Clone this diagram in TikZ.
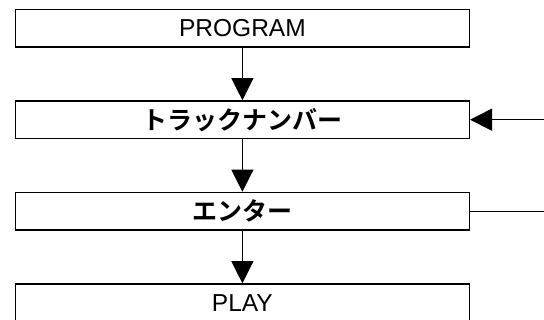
\documentclass[tikz,border=0pt]{standalone}
\usepackage{fontspec}
\setmainfont{Liberation Sans}
\newfontfamily\jpfont{Noto Sans CJK JP}[BoldFont={Noto Sans CJK JP Bold}]
\usetikzlibrary{arrows.meta}
\tikzset{
  stepbox/.style={draw, rectangle, line width=1.4pt, inner sep=0pt,
    minimum width=453.8pt, minimum height=37.5pt, font=\fontsize{24.5}{28}\selectfont},
  jpbox/.style={stepbox, font=\jpfont\bfseries\fontsize{25}{28}\selectfont},
}
\begin{document}
\begin{tikzpicture}[x=1pt,y=1pt,node distance=91.5pt,
    >={Triangle[width=22pt,length=22pt]},line width=0.9pt]
        \useasboundingbox (0,0) rectangle (544,-320);
        \node (program) [stepbox] at (242.4,-28.2) {PROGRAM};
        \node (track) [jpbox, below of=program] {トラックナンバー};
        \node (enter) [jpbox, below of=track] {エンター};
        \node (play) [stepbox, below of=enter] {PLAY};

        \coordinate (retin) at ([xshift=75pt]track.east);
        \coordinate (retout) at ([xshift=75pt]enter.east);

        \draw[->] (program) -- (track);
        \draw[->] (track) -- (enter);
        \draw[->] (enter) -- (play);
        \draw[->] (retin) -- (track.east);
        \draw (enter.east) -- (retout);
    \end{tikzpicture}
\end{document}
